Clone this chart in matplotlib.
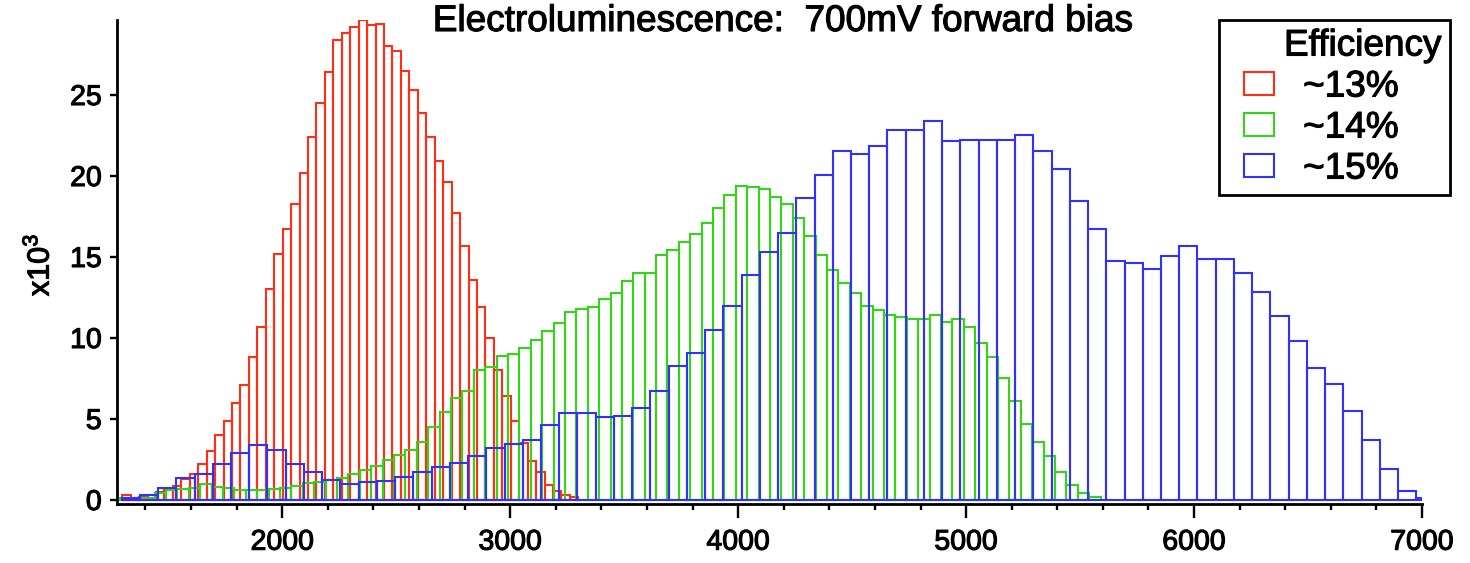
import numpy as np
import matplotlib
matplotlib.use("Agg")
import matplotlib.pyplot as plt
import matplotlib.patheffects as pe
from matplotlib.patches import Patch
from matplotlib.offsetbox import HPacker, DrawingArea

plt.rcParams['font.family'] = ['Liberation Sans', 'DejaVu Sans']
plt.rcParams['mathtext.fontset'] = 'custom'
plt.rcParams['mathtext.rm'] = 'Liberation Sans'

# ---------------- data ----------------
title = "Electroluminescence:  700mV forward bias"
legend_title = "Efficiency"
labels = ["~13%", "~14%", "~15%"]
colors = ["#ff2e14", "#36d418", "#3030ff"]

# histogram bins: first bin edge and bin width (x units), counts in thousands
red_start, red_width = 1298, 37.05
red_counts = [0.3, 0.15, 0.2, 0.3, 0.47, 0.6, 0.86, 1.28, 1.6, 2.2,
              3.0, 4.0, 4.9, 6.0, 7.1, 8.8, 10.7, 13.0, 15.2, 16.7,
              18.3, 20.2, 22.4, 24.5, 26.4, 28.4, 28.8, 29.2, 29.6, 29.3,
              29.4, 28.0, 27.7, 26.5, 25.3, 23.9, 22.4, 20.9, 19.6, 17.7,
              15.7, 13.6, 11.9, 10.0, 8.0, 6.4, 4.9, 3.5, 2.4, 1.7,
              0.93, 0.58, 0.31, 0.2]

green_start, green_width = 1290, 50
green_counts = [0.1, 0.1, 0.15, 0.45, 0.6, 0.66, 0.72, 0.99, 0.82, 0.72,
                0.62, 0.62, 0.62, 0.66, 0.72, 0.86, 1.03, 1.13, 1.23, 1.34,
                1.6, 1.85, 2.1, 2.47, 2.78, 3.09, 3.6, 4.5, 5.4, 6.3,
                6.7, 8.0, 8.2, 8.9, 9.0, 9.4, 9.9, 10.4, 10.9, 11.6,
                11.8, 11.9, 12.4, 12.8, 13.5, 14.0, 14.0, 15.1, 15.4, 15.9,
                16.4, 17.1, 18.0, 18.8, 19.4, 19.3, 19.2, 18.7, 18.3, 17.4,
                16.3, 15.1, 14.2, 13.4, 12.8, 12.0, 11.7, 11.4, 11.3, 11.2,
                11.2, 11.4, 11.0, 11.2, 10.7, 9.7, 8.8, 7.5, 6.1, 4.7,
                3.6, 2.7, 1.7, 0.9, 0.4, 0.2]

blue_start, blue_width = 1295, 80
blue_counts = [0.1, 0.3, 0.72, 1.35, 1.6, 2.2, 2.9, 3.4, 3.1, 2.2,
               1.7, 1.23, 1.0, 1.1, 1.2, 1.44, 1.7, 2.06, 2.3, 2.7,
               3.2, 3.45, 3.7, 4.6, 5.35, 5.35, 5.1, 5.2, 5.7, 6.7,
               8.3, 9.1, 10.5, 12.0, 13.9, 15.3, 16.5, 18.65, 20.05, 21.55,
               21.35, 21.85, 22.85, 22.85, 23.4, 22.15, 22.25, 22.25, 22.25, 22.55,
               21.55, 20.45, 18.45, 16.75, 14.75, 14.65, 14.25, 15.05, 15.65, 14.9,
               14.9, 14.0, 12.85, 11.35, 9.8, 8.15, 7.15, 5.5, 3.7, 1.9,
               0.53, 0.15]

x_major = [2000, 3000, 4000, 5000, 6000, 7000]
y_major = [0, 5, 10, 15, 20, 25]

# ---------------- figure ----------------
W, H = 1470, 563
fig = plt.figure(figsize=(W / 100, H / 100), dpi=100)
ax = fig.add_axes([117 / W, (H - 504) / H, (1422 - 117) / W, (504 - 20) / H])

heavy = [pe.withStroke(linewidth=0.8, foreground='black')]

series = [(red_start, red_width, red_counts),
          (green_start, green_width, green_counts),
          (blue_start, blue_width, blue_counts)]
for z, ((start, width, counts), col) in enumerate(zip(series, colors)):
    edges = start + width * np.arange(len(counts))
    ax.bar(edges, counts, width=width, align='edge', fill=False,
           edgecolor=col, linewidth=1.5, zorder=2 + z)

ax.set_xlim(1275, 7000)
ax.set_ylim(-0.25, 29.63)

for s in ['top', 'right']:
    ax.spines[s].set_visible(False)
for s in ['left', 'bottom']:
    ax.spines[s].set_linewidth(2.0)

ax.set_xticks(x_major)
ax.set_xticks(np.arange(1400, 7001, 200), minor=True)
ax.set_yticks(y_major)
ax.tick_params(axis='x', which='major', direction='out', length=10, width=1.7,
               labelsize=20.5, pad=8.5)
ax.tick_params(axis='x', which='minor', direction='out', length=4.5, width=1.7)
ax.tick_params(axis='y', which='major', direction='out', length=5, width=1.7,
               labelsize=20.5, pad=6)
for t in ax.get_xticklabels() + ax.get_yticklabels():
    t.set_path_effects(heavy)

ax.set_ylabel(r'$\mathregular{x10^{3}}$', fontsize=22)
ax.yaxis.set_label_coords(-0.047, 0.494)
ax.yaxis.label.set_path_effects(heavy)

ax.text(0.51, (504 - 31) / 484, title, transform=ax.transAxes, ha='center',
        va='baseline', fontsize=26.6, path_effects=heavy)

fs = 26.6
em_px = fs * 100 / 72
handles = [Patch(facecolor='none', edgecolor=c, linewidth=1.5, label=l)
           for c, l in zip(colors, labels)]
leg = ax.legend(handles=handles, title=legend_title, loc='upper right',
                bbox_to_anchor=(1450 / W, 1 - 20 / H), bbox_transform=fig.transFigure,
                fontsize=fs, title_fontsize=fs, frameon=True, fancybox=False,
                edgecolor='black', framealpha=1, borderaxespad=0,
                handlelength=30 / em_px, handleheight=21 / em_px,
                handletextpad=29 / em_px, labelspacing=6 / em_px,
                borderpad=8.5 / em_px, alignment='right')
leg.get_frame().set_linewidth(2)
leg.set_zorder(10)
for t in leg.get_texts() + [leg.get_title()]:
    t.set_path_effects(heavy)
# entries sit left of the right-aligned title (as in the original key)
px2pt = 72 / 100
hb = leg._legend_handle_box
wrapped = HPacker(pad=0, sep=0,
                  children=[DrawingArea(17 * px2pt, 1), hb, DrawingArea(43 * px2pt, 1)])
wrapped.set_figure(fig)
leg._legend_box._children[1] = wrapped

fig.savefig('out.png', dpi=100)
